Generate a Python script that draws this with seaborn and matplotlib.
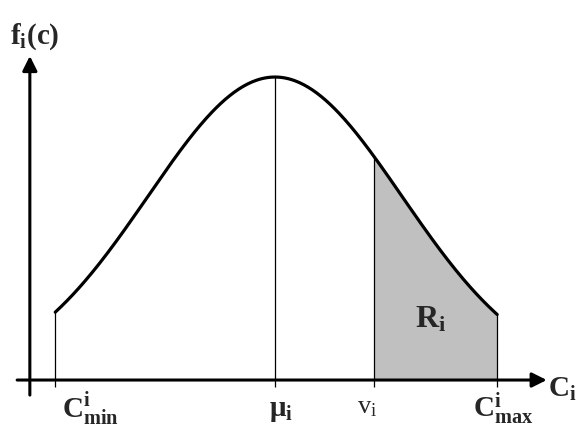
import numpy as np
import pandas as pd
import seaborn as sns
import matplotlib.pyplot as plt

# distribution values (in units of sigma, mean at 0)
mu = 0.0
sigma = 1.0
c_min = -1.73
c_max = 1.75
v_i = 0.78

# tick labels under the axis
marks = [c_min, mu, v_i, c_max]
mark_labels = [r'$\mathbf{C}^{\mathbf{i}}_{\mathbf{min}}$', r'$\mathbf{\mu}_{\mathbf{i}}$',
               r'$\mathrm{v}_{\mathrm{i}}$', r'$\mathbf{C}^{\mathbf{i}}_{\mathbf{max}}$']

sns.set_theme(style='white')
plt.rcParams['mathtext.fontset'] = 'custom'
plt.rcParams['mathtext.rm'] = 'Liberation Serif'
plt.rcParams['mathtext.it'] = 'Liberation Serif:bold'
plt.rcParams['mathtext.bf'] = 'Liberation Serif:bold'
plt.rcParams['font.family'] = ['Liberation Serif', 'DejaVu Serif']


def pdf(x):
    return np.exp(-0.5 * ((x - mu) / sigma) ** 2) / (sigma * np.sqrt(2 * np.pi))


xs = np.linspace(c_min, c_max, 300)
curve = pd.DataFrame({'c': xs, 'f': pdf(xs)})
shade = curve[curve['c'] >= v_i]

fig = plt.figure(figsize=(5.79, 4.31), dpi=100)
ax = fig.add_axes([0, 0, 1, 1])
ax.set_xlim(-2.165, 2.394)
ax.set_ylim(-0.0658, 0.5017)
ax.axis('off')

# shaded area R_i
ax.fill_between(shade['c'], 0, shade['f'], color='#c0c0c0', lw=0)

# the density curve
sns.lineplot(data=curve, x='c', y='f', ax=ax, color='black', lw=2.3)

# vertical lines (with a small tick below the axis)
tick = 0.0092
ax.vlines(marks, -tick, pdf(np.array(marks)), color='black', lw=0.9)

# axes with arrows
ax.annotate('', xy=(2.14, 0), xytext=(-2.03, 0),
            arrowprops=dict(arrowstyle='-|>', lw=2.2, color='black', mutation_scale=22, shrinkA=0, shrinkB=0))
ax.annotate('', xy=(-1.93, 0.4267), xytext=(-1.93, -0.0198),
            arrowprops=dict(arrowstyle='-|>', lw=2.2, color='black', mutation_scale=22, shrinkA=0, shrinkB=0))

# labels
offsets = [(7, -37), (-6, -35), (-17, -32), (-24, -37)]
sizes = [21, 21, 19, 21]
for m, lab, off, fs in zip(marks, mark_labels, offsets, sizes):
    ax.annotate(lab, xy=(m, 0), xytext=off, textcoords='offset pixels',
                ha='left', va='baseline', fontsize=fs)

ax.annotate(r'$\mathbf{C}_{\mathbf{i}}$', xy=(2.14, 0), xytext=(1, -16), textcoords='offset pixels',
            ha='left', va='baseline', fontsize=21)
ax.annotate(r'$\mathbf{f}_{\mathbf{i}}\mathbf{(c)}$', xy=(-1.93, 0.4267), xytext=(-20, 13),
            textcoords='offset pixels', ha='left', va='baseline', fontsize=21)
ax.annotate(r'$\mathbf{R}_{\mathbf{i}}$', xy=(v_i, 0), xytext=(41, 54), textcoords='offset pixels',
            ha='left', va='baseline', fontsize=23)

fig.savefig('out.png', dpi=100)
